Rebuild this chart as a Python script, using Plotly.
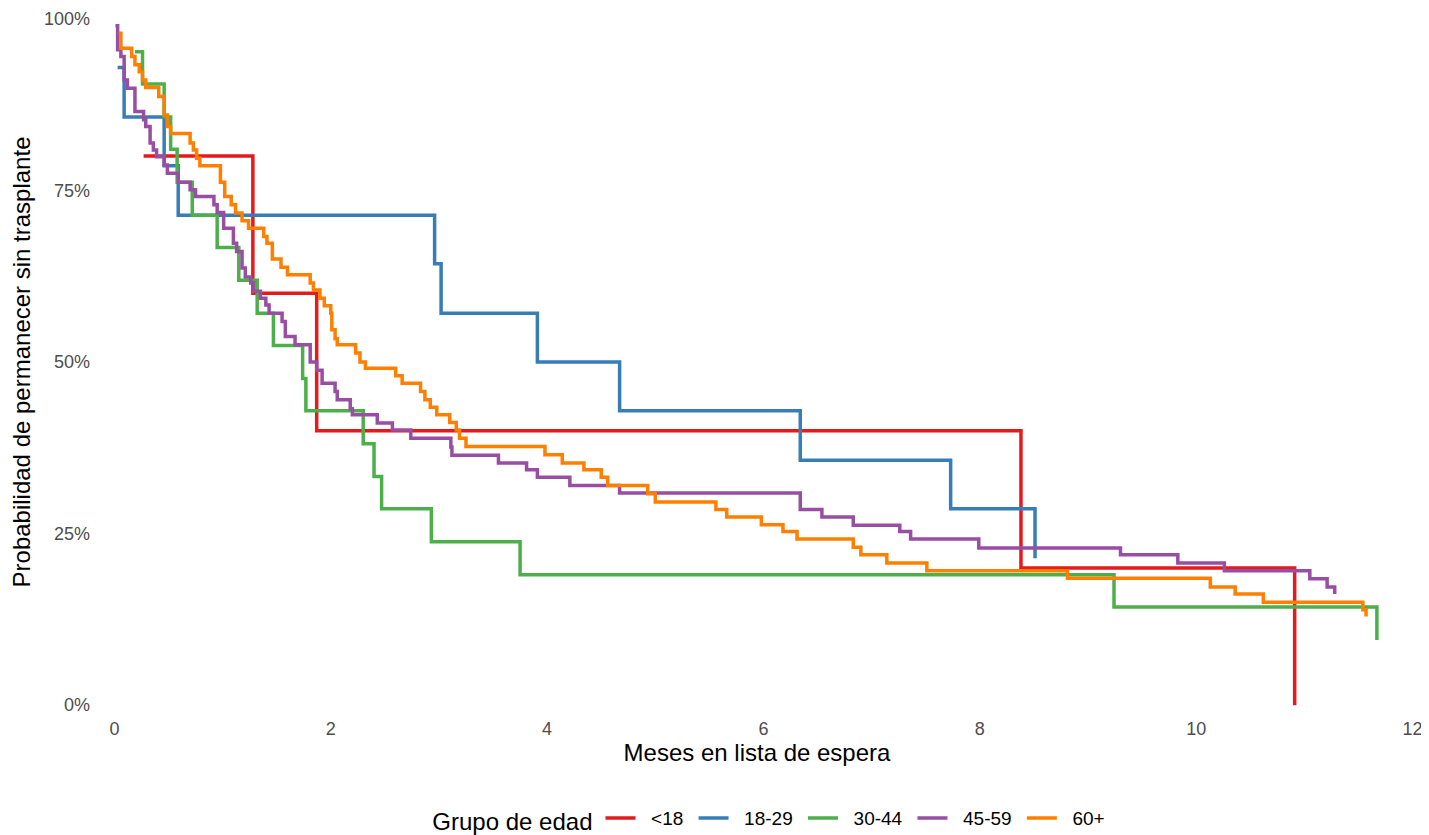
import plotly.graph_objects as go

# Kaplan-Meier estimates (months, % remaining without transplant)
groups = ["<18", "18-29", "30-44", "45-59", "60+"]
colors = ["#E41A1C", "#377EB8", "#4DAF4A", "#984EA3", "#FF7F00"]

t_lt18 = [0.27, 1.28, 1.87, 8.38, 10.91]
s_lt18 = [80.0, 60.0, 40.0, 20.0, 0.0]

t_18_29 = [0.03, 0.09, 0.46, 0.59, 2.96, 3.02, 3.91, 4.67, 6.34, 7.73, 8.51]
s_18_29 = [92.9, 85.7, 78.6, 71.4, 64.3, 57.1, 50.0, 42.9, 35.7, 28.6, 21.4]

t_30_44 = [0.19, 0.26, 0.46, 0.52, 0.58, 0.72, 0.95, 1.15, 1.32, 1.47, 1.74, 1.77,
           2.30, 2.40, 2.47, 2.93, 3.75, 9.24, 11.67]
s_30_44 = [95.2, 90.5, 85.7, 81.0, 76.2, 71.4, 66.7, 61.9, 57.1, 52.4, 47.6, 42.9,
           38.1, 33.3, 28.6, 23.8, 19.0, 14.3, 9.5]

t_45_59 = [0.01, 0.03, 0.06, 0.09, 0.12, 0.19, 0.27, 0.29, 0.33, 0.36, 0.39, 0.46,
           0.49, 0.59, 0.70, 0.75, 0.92, 0.95, 1.01, 1.10, 1.13, 1.18, 1.21, 1.26,
           1.29, 1.35, 1.40, 1.43, 1.55, 1.58, 1.67, 1.81, 1.87, 1.92, 2.04, 2.06,
           2.18, 2.20, 2.43, 2.57, 2.74, 3.11, 3.12, 3.55, 3.81, 3.91, 4.21, 4.67,
           6.34, 6.54, 6.83, 7.26, 7.36, 7.99, 9.30, 9.83, 10.26, 11.05, 11.21, 11.28]
s_45_59 = [99.0, 95.5, 94.5, 91.1, 89.9, 86.5, 85.3, 84.3, 81.9, 80.9, 79.9, 78.7,
           77.5, 76.2, 75.1, 74.1, 72.9, 71.8, 69.5, 67.3, 66.1, 63.7, 62.4, 61.5,
           60.3, 59.3, 58.3, 57.1, 55.9, 53.7, 52.5, 50.0, 48.8, 46.9, 45.7, 44.5,
           43.2, 42.3, 41.1, 40.1, 38.9, 37.6, 36.4, 35.3, 34.3, 33.2, 32.0, 30.9,
           28.5, 27.4, 26.2, 25.3, 24.2, 22.9, 21.9, 20.7, 19.6, 18.4, 17.2, 16.2]

t_60p = [0.04, 0.06, 0.16, 0.19, 0.23, 0.26, 0.29, 0.41, 0.46, 0.49, 0.52, 0.70,
         0.73, 0.76, 0.79, 0.98, 1.02, 1.08, 1.12, 1.18, 1.24, 1.38, 1.41, 1.46,
         1.54, 1.60, 1.81, 1.84, 1.90, 1.94, 2.00, 2.01, 2.04, 2.06, 2.23, 2.27,
         2.32, 2.60, 2.66, 2.83, 2.87, 2.92, 2.98, 3.10, 3.16, 3.19, 3.25, 3.98,
         4.14, 4.34, 4.50, 4.56, 4.93, 5.00, 5.56, 5.66, 5.98, 6.18, 6.31, 6.83,
         6.90, 7.14, 7.51, 8.81, 10.13, 10.36, 10.62, 11.54, 11.57]
s_60p = [97.9, 95.7, 94.5, 93.3, 92.3, 91.1, 90.0, 88.7, 86.0, 84.3, 83.3, 81.9,
         80.9, 79.7, 78.6, 76.2, 74.1, 72.9, 71.7, 70.6, 69.5, 68.3, 67.3, 65.0,
         63.8, 62.7, 61.5, 60.5, 59.3, 58.2, 57.1, 54.7, 53.4, 52.5, 51.3, 50.0,
         49.1, 48.0, 46.9, 45.7, 44.5, 43.4, 42.3, 41.2, 40.1, 38.9, 37.7, 36.5,
         35.3, 34.3, 33.2, 32.0, 30.8, 29.6, 28.5, 27.4, 26.3, 25.3, 24.2, 23.0,
         21.9, 20.7, 19.6, 18.5, 17.2, 16.2, 15.0, 13.9, 12.9]

series = [(t_lt18, s_lt18), (t_18_29, s_18_29), (t_30_44, s_30_44),
          (t_45_59, s_45_59), (t_60p, s_60p)]

x_ticks = [0, 2, 4, 6, 8, 10, 12]
y_ticks = [0, 0.25, 0.5, 0.75, 1.0]

FONT = "Liberation Sans, Arial, sans-serif"
NB = "\u00a0"

fig = go.Figure()
for name, col, (t, s) in zip(groups, colors, series):
    fig.add_trace(go.Scatter(
        x=t, y=[v / 100 for v in s], name=NB * 2 + name + NB, mode="lines",
        line=dict(color=col, width=3.5, shape="hv"),
    ))

# page body has an 8px default margin, so the figure is 8px smaller each way
fig.update_layout(
    width=1421, height=827,
    paper_bgcolor="white", plot_bgcolor="white",
    margin=dict(l=88, r=11, t=4, b=123),
    font=dict(family=FONT, color="#000000"),
    showlegend=True,
    legend=dict(
        orientation="h", x=0.512, xanchor="center",
        yref="container", y=0.018, yanchor="middle",
        title=dict(text="Grupo de edad", font=dict(size=24, color="#000000")),
        font=dict(size=19, color="#000000"),
        itemwidth=30, tracegroupgap=0,
    ),
)
fig.update_xaxes(
    range=[-0.17, 12.05], tickvals=x_ticks, showgrid=False, zeroline=False,
    showline=False, ticks="", ticklabelstandoff=4, automargin=False,
    tickfont=dict(size=18, color="#4D4D4D"),
    title=dict(text="Meses en lista de espera", font=dict(size=24, color="#000000"), standoff=5),
)
fig.update_yaxes(
    range=[-0.01, 1.01], tickvals=y_ticks, tickformat=".0%", showgrid=False,
    zeroline=False, showline=False, ticks="", ticklabelstandoff=5, automargin=False,
    tickfont=dict(size=18, color="#4D4D4D"),
    title=dict(text="Probabilidad de permanecer sin trasplante", font=dict(size=24, color="#000000"), standoff=10),
)

fig.write_html("out.html")
